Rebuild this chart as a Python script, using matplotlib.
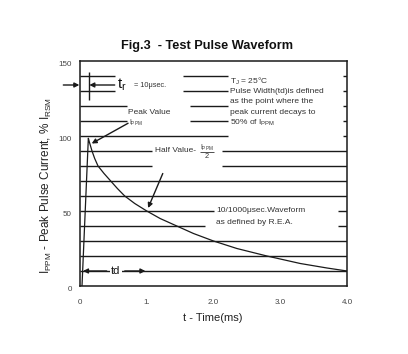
import numpy as np
import matplotlib
matplotlib.use("Agg")
import matplotlib.pyplot as plt

plt.rcParams['font.family'] = ['Liberation Sans', 'DejaVu Sans']
plt.rcParams['mathtext.fontset'] = 'custom'
plt.rcParams['mathtext.rm'] = 'Liberation Sans'

# curve: time in ms, current in % of I_RSM
t_ms = [0.03, 0.125, 0.14, 0.18, 0.22, 0.27, 0.36, 0.46, 0.56, 0.67, 0.82, 1.0,
        1.2, 1.45, 1.7, 2.0, 2.35, 2.8, 3.3, 3.7, 4.0]
i_pct = [0, 98.5, 96, 90, 85, 80, 75, 70, 65, 60, 55, 50,
         45, 40, 35, 30, 25, 20, 15, 12, 10]

y_ticks = [0, 50, 100, 150]
y_ticklabels = ["0", "50", "100", "150"]
x_ticks = [0, 1, 2, 3, 4]
x_ticklabels = ["0", "1.", "2.0", "3.0", "4.0"]

# background lines every 10 %, broken where the notes sit
grid_levels = [140, 130, 120, 110, 100, 90, 80, 70, 60, 50, 40, 30, 20, 10]
grid_gaps = {
    140: [(0, 0.52), (1.54, 2.22), (3.94, 4)],
    130: [(0, 0.52), (1.54, 2.22), (3.94, 4)],
    120: [(0, 0.70), (1.65, 2.22), (3.94, 4)],
    110: [(0, 0.70), (1.65, 2.22), (3.94, 4)],
    100: [(0, 2.22), (3.94, 4)],
    90: [(0, 1.08), (2.13, 4)],
    80: [(0, 1.08), (2.13, 4)],
    50: [(0, 2.0), (3.87, 4)],
    40: [(0, 1.87), (3.87, 4)],
}

txt = "#333333"
ln = "#1a1a1a"

fig = plt.figure(figsize=(4.08, 3.54), dpi=100, facecolor="white")
ax = fig.add_axes([80/408, 1-286/354, 267/408, 225/354])
ax.set_xlim(0, 4)
ax.set_ylim(0, 150)

for lv in grid_levels:
    for a, b in grid_gaps.get(lv, [(0, 4)]):
        ax.hlines(lv, a, b, color=ln, lw=1.0)

ax.plot(t_ms, i_pct, color=ln, lw=0.9)

for s in ax.spines.values():
    s.set_linewidth(1.1)
    s.set_color(ln)

ax.set_xticks(x_ticks)
ax.set_xticklabels(x_ticklabels)
ax.set_yticks(y_ticks)
ax.set_yticklabels(y_ticklabels)
ax.tick_params(length=0, labelsize=5.8, labelcolor="#444444")
ax.tick_params(axis="x", pad=9)
ax.tick_params(axis="y", pad=6)
for lab in ax.get_yticklabels():
    lab.set_va("top")

arr = dict(arrowstyle="-|>", color=ln, lw=1.0, mutation_scale=7, shrinkA=0, shrinkB=0)

# rise time marker
ax.annotate("", xy=(-0.01, 134), xytext=(-0.25, 134), arrowprops=arr, annotation_clip=False)
ax.annotate("", xy=(0.14, 134), xytext=(0.52, 134), arrowprops=arr)
ax.vlines(0.13, 124, 143, color=ln, lw=1.0)
ax.text(0.56, 134, r"$\mathregular{t_r}$", fontsize=11, va="center", color="#111111")
ax.text(0.81, 133.5, "= 10μsec.", fontsize=5.3, va="center", color=txt)

# peak value
ax.text(0.72, 116, "Peak Value", fontsize=6, va="center", color=txt)
ax.text(0.74, 109, r"$\mathregular{I_{PPM}}$", fontsize=4.8, va="center", color=txt)
ax.annotate("", xy=(0.175, 95), xytext=(0.72, 108.5), arrowprops=arr)

# half value
ax.text(1.12, 90, "Half Value-", fontsize=6, va="center", color=txt)
ax.text(1.80, 92, r"$\mathregular{I_{PPM}}$", fontsize=4.8, va="center", color=txt)
ax.hlines(89.3, 1.8, 2.0, color=txt, lw=0.6)
ax.text(1.90, 86, "2", fontsize=5.3, va="center", ha="center", color=txt)
ax.annotate("", xy=(1.02, 52), xytext=(1.24, 75), arrowprops=arr)

ax.text(2.04, 50.5, "10/1000μsec.Waveform", fontsize=6, va="center", color=txt)
ax.text(2.04, 42.5, "as defined by R.E.A.", fontsize=6, va="center", color=txt)

notes = [r"$\mathregular{T_J}$ = 25°C", "Pulse Width(td)is defined", "as the point where the",
         "peak current decays to", r"50% of $\mathregular{I_{PPM}}$"]
for k, s in enumerate(notes):
    ax.text(2.25, 136.5 - 6.9 * k, s, fontsize=6, va="center", color=txt)

# td marker
ax.annotate("", xy=(0.045, 10), xytext=(0.40, 10), arrowprops=arr)
ax.annotate("", xy=(0.98, 10), xytext=(0.67, 10), arrowprops=arr)
ax.text(0.535, 10, "td", fontsize=8, ha="center", va="center", color="#111111",
        bbox=dict(facecolor="white", edgecolor="none", pad=1))

fig.text(0.507, 1-46/354, "Fig.3  - Test Pulse Waveform", fontsize=9.2, fontweight="bold",
         ha="center", va="center", color="#111111")
fig.text(46/408, 1-185/354, r"$\mathregular{I_{PPM}}$ - Peak Pulse Current, % $\mathregular{I_{RSM}}$",
         fontsize=8.5, rotation=90, ha="center", va="center", color="#222222")
fig.text(213/408, 1-318/354, "t - Time(ms)", fontsize=8, ha="center", va="center", color="#222222")

fig.savefig("out.png", dpi=100, facecolor="white")
